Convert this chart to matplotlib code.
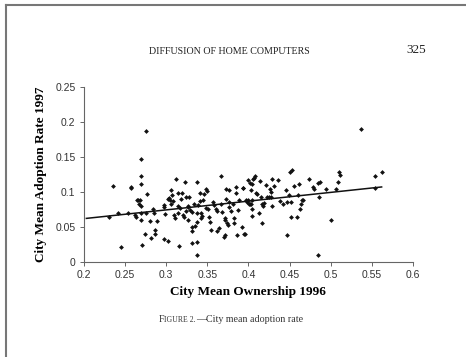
import numpy as np
import matplotlib

matplotlib.use("Agg")
import matplotlib.pyplot as plt
from matplotlib.lines import Line2D

# city mean ownership 1996 (x) and adoption rate 1997 (y)
own_1996 = [
    0.231, 0.235, 0.241, 0.245, 0.254, 0.257, 0.257, 0.262, 0.263, 0.264,
    0.266, 0.267, 0.268, 0.269, 0.269, 0.269, 0.270, 0.270, 0.270, 0.271,
    0.274, 0.276, 0.277, 0.276, 0.280, 0.282, 0.284, 0.285, 0.286, 0.287,
    0.289, 0.297, 0.298, 0.297, 0.299, 0.302, 0.302, 0.304, 0.305, 0.306,
    0.306, 0.307, 0.308, 0.310, 0.311, 0.312, 0.314, 0.314, 0.314, 0.316,
    0.317, 0.318, 0.319, 0.320, 0.322, 0.323, 0.324, 0.324, 0.326, 0.327,
    0.328, 0.327, 0.329, 0.331, 0.332, 0.332, 0.332, 0.334, 0.335, 0.337,
    0.337, 0.337, 0.337, 0.338, 0.339, 0.341, 0.341, 0.342, 0.343, 0.344,
    0.345, 0.346, 0.348, 0.349, 0.350, 0.351, 0.352, 0.353, 0.355, 0.357,
    0.358, 0.361, 0.362, 0.362, 0.364, 0.367, 0.367, 0.368, 0.370, 0.371,
    0.371, 0.372, 0.373, 0.373, 0.374, 0.375, 0.376, 0.377, 0.377, 0.379,
    0.381, 0.382, 0.383, 0.385, 0.385, 0.386, 0.387, 0.388, 0.392, 0.394,
    0.395, 0.397, 0.398, 0.400, 0.402, 0.403, 0.404,
    0.394, 0.396, 0.399, 0.401, 0.402, 0.405, 0.405, 0.403, 0.406, 0.407,
    0.408, 0.405, 0.409, 0.411, 0.413, 0.414, 0.415, 0.416, 0.417, 0.418,
    0.419, 0.421, 0.423, 0.425, 0.426, 0.427, 0.428, 0.429, 0.429, 0.431,
    0.436, 0.438, 0.442, 0.446, 0.447, 0.447, 0.449, 0.451, 0.453, 0.452,
    0.452, 0.455, 0.459, 0.460, 0.461, 0.463, 0.464, 0.465, 0.467, 0.474,
    0.479, 0.480, 0.485, 0.487, 0.486, 0.485, 0.494, 0.501, 0.507, 0.509,
    0.510, 0.512, 0.537, 0.554, 0.554, 0.562,
]
adopt_1997 = [
    0.064, 0.108, 0.070, 0.021, 0.069, 0.107, 0.105, 0.067, 0.064, 0.089,
    0.089, 0.082, 0.088, 0.122, 0.147, 0.111, 0.080, 0.070, 0.060, 0.024,
    0.040, 0.187, 0.097, 0.070, 0.058, 0.034, 0.075, 0.070, 0.046, 0.040,
    0.058, 0.081, 0.079, 0.033, 0.068, 0.030, 0.090, 0.091, 0.088, 0.103,
    0.082, 0.095, 0.087, 0.067, 0.063, 0.119, 0.080, 0.070, 0.098, 0.023,
    0.077, 0.090, 0.099, 0.067, 0.064, 0.114, 0.092, 0.072, 0.080, 0.060,
    0.092, 0.078, 0.074, 0.071, 0.049, 0.044, 0.027, 0.082, 0.051, 0.114,
    0.028, 0.009, 0.057, 0.070, 0.081, 0.098, 0.087, 0.069, 0.062, 0.065,
    0.089, 0.097, 0.077, 0.104, 0.101, 0.075, 0.064, 0.057, 0.045, 0.086,
    0.081, 0.075, 0.044, 0.073, 0.048, 0.082, 0.122, 0.071, 0.036, 0.063,
    0.038, 0.060, 0.104, 0.090, 0.055, 0.052, 0.085, 0.079, 0.102, 0.073,
    0.082, 0.056, 0.063, 0.107, 0.098, 0.038, 0.074, 0.088, 0.050, 0.106,
    0.039, 0.088, 0.086, 0.117, 0.112, 0.083, 0.088,
    0.106, 0.040, 0.089, 0.083, 0.082, 0.075, 0.065, 0.103, 0.118, 0.120,
    0.122, 0.111, 0.098, 0.097, 0.069, 0.116, 0.092, 0.082, 0.055, 0.080,
    0.084, 0.110, 0.092, 0.093, 0.104, 0.100, 0.093, 0.118, 0.080, 0.109,
    0.117, 0.087, 0.082, 0.102, 0.086, 0.038, 0.096, 0.128, 0.131, 0.064,
    0.085, 0.108, 0.064, 0.096, 0.111, 0.076, 0.083, 0.088, 0.089, 0.119,
    0.107, 0.104, 0.112, 0.114, 0.093, 0.009, 0.104, 0.060, 0.104, 0.114,
    0.128, 0.124, 0.190, 0.123, 0.106, 0.129,
]

# linear trend line endpoints as drawn in the original
trend_x = [0.203, 0.562]
trend_y = [0.062, 0.107]

x_ticks = [0.2, 0.25, 0.3, 0.35, 0.4, 0.45, 0.5, 0.55, 0.6]
x_tick_labels = ["0.2", "0.25", "0.3", "0.35", "0.4", "0.45", "0.5", "0.55", "0.6"]
y_ticks = [0, 0.05, 0.1, 0.15, 0.2, 0.25]
y_tick_labels = ["0", "0.05", "0.1", "0.15", "0.2", "0.25"]

serif = ["Liberation Serif", "DejaVu Serif"]
sans = ["Liberation Sans", "DejaVu Sans"]

fig = plt.figure(figsize=(4.66, 3.57), dpi=100)
ax = fig.add_axes([0.180, 0.267, 0.706, 0.489])

ax.scatter(own_1996, adopt_1997, s=6, marker="D", color="#111111", linewidths=0)
ax.plot(trend_x, trend_y, color="#111111", linewidth=1.1)

ax.set_xlim(0.2, 0.6)
ax.set_ylim(0, 0.25)
ax.set_xticks(x_ticks)
ax.set_xticklabels(x_tick_labels, fontfamily=sans, fontsize=7.5, color="#333333")
ax.set_yticks(y_ticks)
ax.set_yticklabels(y_tick_labels, fontfamily=sans, fontsize=7.5, color="#333333")
ax.tick_params(direction="out", length=3, width=0.7, colors="#666666",
               labelcolor="#333333", pad=3)
for side in ["top", "right"]:
    ax.spines[side].set_visible(False)
for side in ["left", "bottom"]:
    ax.spines[side].set_color("#666666")
    ax.spines[side].set_linewidth(0.8)

ax.set_xlabel("City Mean Ownership 1996", fontfamily=serif, fontweight="bold",
              fontsize=9.5, labelpad=4)
ax.set_ylabel("City Mean Adoption Rate 1997", fontfamily=serif, fontweight="bold",
              fontsize=9.5, labelpad=6)

# page header from the scanned page
fig.text(0.492, 0.856, "DIFFUSION OF HOME COMPUTERS", fontfamily=serif,
         fontsize=7.2, ha="center", va="center", color="#222222")
fig.text(0.893, 0.860, "325", fontfamily=serif, fontsize=9.5, ha="center",
         va="center", color="#222222")

# caption in small caps, pieces placed one after the other
renderer = fig.canvas.get_renderer()
cap_x = 0.341
cap_y = 0.098
pieces = [("F", 7.2), ("IGURE 2.", 5.6), ("\u2014City mean adoption rate", 7.2)]
for txt, size in pieces:
    t = fig.text(cap_x, cap_y, txt, fontfamily=serif, fontsize=size, ha="left",
                 va="baseline", color="#333333")
    bb = t.get_window_extent(renderer=renderer)
    cap_x += bb.width / fig.bbox.width

# grey page border on top and left
fig.add_artist(Line2D([0.012, 1.0], [0.985, 0.985], color="#777777", linewidth=1.5,
                      transform=fig.transFigure))
fig.add_artist(Line2D([0.012, 0.012], [0.0, 0.985], color="#777777", linewidth=1.5,
                      transform=fig.transFigure))

fig.savefig("out.png", dpi=100)
plt.close(fig)
